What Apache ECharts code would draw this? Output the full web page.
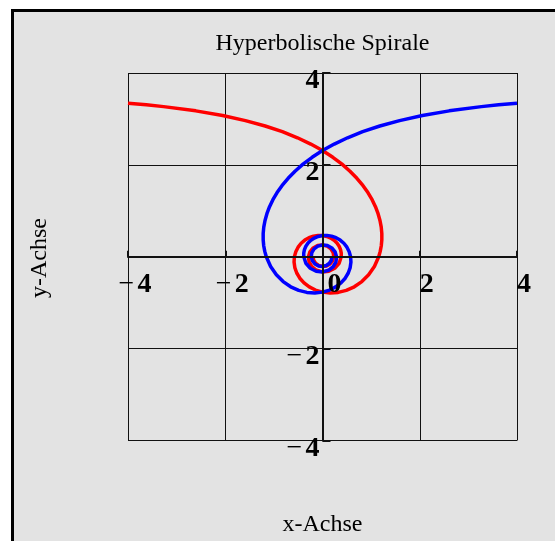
<!DOCTYPE html>
<html>
<head>
<meta charset="utf-8">
<script src="https://cdn.jsdelivr.net/npm/echarts@6/dist/echarts.min.js"></script>
<style>
  html, body { margin: 0; padding: 0; background: #fff; }
  #chart { width: 555px; height: 541px; }
</style>
</head>
<body>
<div id="chart"></div>
<script>
// Hyperbolic spiral r = c / t, sampled points (x, y) along the curve.
// Blue branch runs in from the right, red branch is its mirror image from the left.
const spiralY = [3.344, 3.308, 3.268, 3.176, 3.074, 2.964, 2.847, 2.722, 2.590, 2.453,
  2.311, 2.165, 2.015, 1.862, 1.708, 1.553, 1.397, 1.243, 1.089, 0.938,
  0.790, 0.646, 0.505, 0.370, 0.240, 0.117, 0,
  -0.212, -0.393, -0.541, -0.654, -0.732, -0.776,
  -0.788, -0.770, -0.725, -0.657, -0.569, -0.467, -0.354, -0.236, -0.116, 0,
  0.109, 0.208, 0.293, 0.363, 0.415, 0.449, 0.465, 0.462, 0.442, 0.407,
  0.357, 0.297, 0.228, 0.154, 0.077, 0, -0.142, -0.251, -0.316, -0.330,
  -0.295, -0.218, -0.114, 0, 0.107, 0.192, 0.244, 0.257, 0.231, 0.172,
  0.091, 0, -0.086, -0.156, -0.199, -0.210, -0.190, -0.142, -0.075, 0];

const blueX = [4.000, 3.623, 3.268, 2.606, 2.054, 1.585, 1.179, 0.826, 0.515, 0.242,
  0, -0.213, -0.401, -0.565, -0.707, -0.830, -0.934, -1.020, -1.089, -1.143,
  -1.182, -1.208, -1.220, -1.220, -1.209, -1.187, -1.156,
  -1.067, -0.949, -0.809, -0.654, -0.489, -0.322,
  -0.157, 0, 0.144, 0.272, 0.380, 0.467, 0.530, 0.569, 0.585, 0.578,
  0.549, 0.502, 0.439, 0.363, 0.278, 0.186, 0.092, 0, -0.088, -0.168,
  -0.239, -0.297, -0.342, -0.371, -0.386, -0.385, -0.342, -0.251, -0.131, 0,
  0.122, 0.218, 0.276, 0.289, 0.259, 0.192, 0.101, 0, -0.096, -0.172,
  -0.219, -0.231, -0.208, -0.156, -0.082, 0, 0.079, 0.142, 0.182, 0.193];

const redX = [-4.000, -3.623, -3.268, -2.606, -2.054, -1.585, -1.179, -0.826, -0.515, -0.242,
  0, 0.213, 0.401, 0.565, 0.707, 0.830, 0.934, 1.020, 1.089, 1.143,
  1.182, 1.208, 1.220, 1.220, 1.209, 1.187, 1.156,
  1.067, 0.949, 0.809, 0.654, 0.489, 0.322,
  0.157, 0, -0.144, -0.272, -0.380, -0.467, -0.530, -0.569, -0.585, -0.578,
  -0.549, -0.502, -0.439, -0.363, -0.278, -0.186, -0.092, 0, 0.088, 0.168,
  0.239, 0.297, 0.342, 0.371, 0.386, 0.385, 0.342, 0.251, 0.131, 0,
  -0.122, -0.218, -0.276, -0.289, -0.259, -0.192, -0.101, 0, 0.096, 0.172,
  0.219, 0.231, 0.208, 0.156, 0.082, 0, -0.079, -0.142, -0.182, -0.193];

const axisTicks = [-4, -2, 0, 2, 4];
const axisMin = axisTicks[0];
const axisMax = axisTicks[axisTicks.length - 1];

const serif = '"Liberation Serif", "Times New Roman", serif';
const pairs = (xs, ys) => xs.map((x, i) => [x, ys[i]]);

const rich = {
  m: { fontFamily: serif, fontSize: 28, fontWeight: 'normal', color: '#000' },
  d: { fontFamily: serif, fontSize: 28, fontWeight: 'bold', color: '#000' },
  z: { fontFamily: serif, fontSize: 28, fontWeight: 'bold', color: '#000', padding: [0, 0, 0, 10] }
};
const tickText = v => (v < 0 ? '{m|\u2212} {d|' + (-v) + '}' : (v === 0 ? '{z|0}' : '{d|' + v + '}'));

// Plot box in pixels
const G = { left: 128, right: 38, top: 73, bottom: 100.5 };
const W = 555, H = 541;
const plotW = W - G.left - G.right;
const plotH = H - G.top - G.bottom;
// distance from the box edges to the zero lines, used to move the axes onto the origin
const xZeroShift = plotH * (0 - axisMin) / (axisMax - axisMin);
const yZeroShift = plotW * (0 - axisMin) / (axisMax - axisMin);

const chart = echarts.init(document.getElementById('chart'), null, { renderer: 'canvas' });

const gridAxis = {
  type: 'value', min: axisMin, max: axisMax, interval: 2,
  axisLine: { show: false }, axisTick: { show: false }, axisLabel: { show: false },
  splitLine: { show: true, lineStyle: { color: '#111', width: 1 } }
};

chart.setOption({
  animation: false,
  backgroundColor: '#ffffff',
  graphic: [
    {
      type: 'rect', z: -10, silent: true,
      shape: { x: 12.5, y: 10.5, width: 620, height: 620 },
      style: { fill: '#e3e3e3', stroke: '#000', lineWidth: 3 }
    },
    {
      type: 'text', silent: true, x: 322.5, y: 44,
      style: { text: 'Hyperbolische Spirale', font: '24px ' + serif, fill: '#000',
               align: 'center', verticalAlign: 'middle' }
    },
    {
      type: 'text', silent: true, x: 322.5, y: 525,
      style: { text: 'x-Achse', font: '24px ' + serif, fill: '#000',
               align: 'center', verticalAlign: 'middle' }
    },
    {
      type: 'text', silent: true, x: 40, y: 258, rotation: Math.PI / 2,
      style: { text: 'y-Achse', font: '24px ' + serif, fill: '#000',
               align: 'center', verticalAlign: 'middle' }
    }
  ],
  grid: G,
  xAxis: [
    gridAxis,
    {
      type: 'value', min: axisMin, max: axisMax, interval: 2, position: 'bottom',
      offset: -xZeroShift, z: 10,
      axisLine: { onZero: false, lineStyle: { color: '#111', width: 2 } },
      axisTick: { inside: true, length: 6, lineStyle: { color: '#111', width: 2 } },
      splitLine: { show: false },
      axisLabel: { formatter: tickText, rich: rich, margin: 14, padding: [0, 0, 0, 14] }
    }
  ],
  yAxis: [
    gridAxis,
    {
      type: 'value', min: axisMin, max: axisMax, interval: 2, position: 'left',
      offset: -yZeroShift, z: 10,
      axisLine: { onZero: false, lineStyle: { color: '#111', width: 2 } },
      axisTick: { inside: true, length: 8, lineStyle: { color: '#111', width: 2 } },
      splitLine: { show: false },
      axisLabel: { formatter: v => (v === 0 ? '' : tickText(v)), rich: rich, margin: 3,
                   padding: [16, 0, 0, 0] }
    }
  ],
  series: [
    {
      name: 'rot', type: 'line', xAxisIndex: 0, yAxisIndex: 0,
      data: pairs(redX, spiralY), showSymbol: false,
      lineStyle: { color: '#ff0000', width: 3.5 }, z: 3
    },
    {
      name: 'blau', type: 'line', xAxisIndex: 0, yAxisIndex: 0,
      data: pairs(blueX, spiralY), showSymbol: false,
      lineStyle: { color: '#0000ff', width: 3.5 }, z: 4
    }
  ]
});
</script>
</body>
</html>
